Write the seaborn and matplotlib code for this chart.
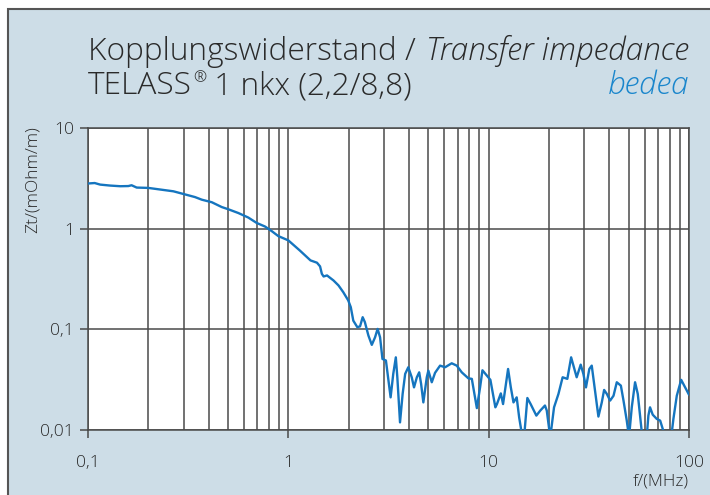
import matplotlib
matplotlib.use("Agg")
import matplotlib.pyplot as plt
import seaborn as sns
import pandas as pd
from matplotlib.patches import Rectangle
from matplotlib.ticker import FixedLocator, NullLocator, NullFormatter

# ---- data (f in MHz, Zt in mOhm/m) ----
freq_mhz = [
    0.100, 0.108, 0.115, 0.129, 0.145, 0.159, 0.165, 0.175, 0.200, 0.233,
    0.267, 0.305, 0.342, 0.370, 0.415, 0.465, 0.501, 0.563, 0.631, 0.695,
    0.765, 0.826, 0.891, 1.00, 1.14, 1.29, 1.39, 1.44, 1.47, 1.50,
    1.56, 1.68, 1.78, 1.88, 1.99, 2.05, 2.11, 2.21, 2.28, 2.35,
    2.41, 2.51, 2.61, 2.71, 2.79, 2.87, 2.95, 3.07, 3.16, 3.24,
    3.34, 3.44, 3.50, 3.61, 3.72, 3.83, 3.97, 4.13, 4.24, 4.38,
    4.50, 4.60, 4.72, 4.91, 5.00, 5.20, 5.40, 5.72, 6.06, 6.54,
    6.93, 7.34, 7.92, 8.24, 8.73, 9.06, 9.31, 9.79, 10.2, 10.5,
    10.8, 11.0, 11.5, 11.8, 12.5, 12.9, 13.3, 13.8, 14.2, 14.6,
    15.1, 15.6, 16.2, 17.3, 18.1, 19.1, 19.5, 20.1, 20.5, 21.2,
    22.3, 23.4, 24.7, 25.8, 26.5, 27.5, 28.8, 29.7, 30.6, 31.8,
    32.7, 33.6, 35.3, 36.7, 37.7, 38.9, 40.4, 42.0, 43.6, 45.7,
    47.1, 48.9, 50.2, 51.8, 53.8, 55.5, 57.0, 58.3, 61.5, 62.7,
    63.9, 65.9, 69.0, 71.8, 74.0, 76.9, 81.1, 83.6, 86.9, 91.4,
    94.6, 97.5, 100.0,
]
zt_mohm_m = [
    2.81, 2.84, 2.74, 2.68, 2.64, 2.65, 2.70, 2.56, 2.54, 2.44,
    2.35, 2.19, 2.06, 1.94, 1.83, 1.64, 1.56, 1.43, 1.29, 1.14,
    1.05, 0.946, 0.844, 0.765, 0.608, 0.484, 0.459, 0.422, 0.356, 0.335,
    0.343, 0.306, 0.273, 0.234, 0.194, 0.166, 0.122, 0.105, 0.107, 0.132,
    0.118, 0.0868, 0.0701, 0.0834, 0.101, 0.0834, 0.0508, 0.0490, 0.0310, 0.0211,
    0.0361, 0.0527, 0.0334, 0.0119, 0.0228, 0.0361, 0.0420, 0.0334, 0.0265, 0.0334,
    0.0374, 0.0287, 0.0188, 0.0334, 0.0389, 0.0298, 0.0370, 0.0436, 0.0420, 0.0460,
    0.0436, 0.0374, 0.0326, 0.0322, 0.0165, 0.0265, 0.0392, 0.0347, 0.0315, 0.0228,
    0.0168, 0.0181, 0.0231, 0.0181, 0.0404, 0.0265, 0.0188, 0.0211, 0.0133, 0.0095,
    0.0095, 0.0208, 0.0181, 0.0139, 0.0156, 0.0175, 0.0156, 0.0098, 0.0099, 0.0168,
    0.0228, 0.0334, 0.0322, 0.0527, 0.0436, 0.0334, 0.0446, 0.0361, 0.0265, 0.0404,
    0.0436, 0.0287, 0.0136, 0.0188, 0.0250, 0.0228, 0.0196, 0.0219, 0.0298, 0.0276,
    0.0196, 0.0124, 0.0085, 0.0168, 0.0298, 0.0228, 0.0139, 0.0090, 0.0085, 0.0139,
    0.0168, 0.0142, 0.0129, 0.0124, 0.0102, 0.0078, 0.0078, 0.0129, 0.0219, 0.0315,
    0.0276, 0.0246, 0.0224,
]

x_ticks = [0.1, 1, 10, 100]
x_tick_labels = ["0,1", "1", "10", "100"]
y_ticks = [0.01, 0.1, 1, 10]
y_tick_labels = ["0,01", "0,1", "1", "10"]

title_plain = "Kopplungswiderstand / "
title_italic = "Transfer impedance"
subtitle_a = "TELASS"
subtitle_reg = "\u00ae"
subtitle_b = " 1 nkx (2,2/8,8)"
brand = "bedea"
y_label = "Zt/(mOhm/m)"
x_label = "f/(MHz)"

# ---- styling ----
sns.set_theme(style="white")
FONT = ["Open Sans", "Liberation Sans", "DejaVu Sans"]
plt.rcParams["font.family"] = FONT

BG = "#cddde7"
LINE = "#1575bf"
GRID = "#4a4a4a"
TXT = "#2a2a2a"

W, H = 710, 495
fig = plt.figure(figsize=(W / 100, H / 100), dpi=100)
fig.patch.set_facecolor("white")

# background panel with dark frame
frame = Rectangle((8 / W, -0.05), 1.2, 1 - 9 / H + 0.05,
                  transform=fig.transFigure, facecolor=BG,
                  edgecolor="#555555", linewidth=1.5, zorder=-10)
fig.add_artist(frame)

ax = fig.add_axes([88 / W, 1 - 430 / H, (689 - 88) / W, (430 - 128) / H])
ax.set_facecolor("white")
ax.set_zorder(2)

df = pd.DataFrame({"f": freq_mhz, "zt": zt_mohm_m})
sns.lineplot(data=df, x="f", y="zt", ax=ax, color=LINE, linewidth=1.7,
             sort=False, estimator=None, zorder=3)

ax.set_xscale("log")
ax.set_yscale("log")
ax.set_xlim(0.1, 100)
ax.set_ylim(0.01, 10)

ax.xaxis.set_major_locator(FixedLocator(x_ticks))
ax.set_xticklabels(x_tick_labels)
ax.yaxis.set_major_locator(FixedLocator(y_ticks))
ax.set_yticklabels(y_tick_labels)
ax.xaxis.set_minor_formatter(NullFormatter())
ax.yaxis.set_minor_locator(NullLocator())

ax.grid(True, which="major", axis="both", color=GRID, linewidth=1.1)
ax.grid(True, which="minor", axis="x", color=GRID, linewidth=1.1)
ax.set_axisbelow(True)

ax.tick_params(axis="both", which="major", direction="out", length=6,
               width=1.1, color=GRID, labelsize=12.5, labelcolor=TXT)
ax.tick_params(axis="x", which="major", pad=12)
ax.tick_params(axis="y", which="major", pad=4)
ax.tick_params(axis="x", which="minor", length=0)
ax.tick_params(left=True, bottom=True)
for lab in ax.get_xticklabels() + ax.get_yticklabels():
    lab.set_fontweight("light")

for s in ax.spines.values():
    s.set_color(GRID)
    s.set_linewidth(1.1)

ax.set_xlabel("")
ax.set_ylabel("")

# ---- titles (fit to reference width) ----
renderer = fig.canvas.get_renderer()
TS = 20
L, R = 88, 689
y1 = 1 - 60 / H
y2 = 1 - 94 / H

tp = fig.text(L / W, y1, title_plain, fontsize=TS, color=TXT, ha="left",
              va="baseline", fontweight="light")
ti = fig.text(R / W, y1, title_italic, fontsize=TS, color=TXT, ha="right",
              va="baseline", style="italic", fontweight="light")
wp = tp.get_window_extent(renderer).width
wi = ti.get_window_extent(renderer).width
TS2 = TS * (R - L - 2) / (wp + wi)
tp.set_fontsize(TS2)
ti.set_fontsize(TS2)

sa = fig.text(L / W, y2, subtitle_a, fontsize=TS2, color=TXT, ha="left",
              va="baseline", fontweight="light")
xa = L + sa.get_window_extent(renderer).width + 1
sr = fig.text(xa / W, 1 - 82 / H, subtitle_reg, fontsize=TS2 * 0.5,
              color=TXT, ha="left", va="baseline", fontweight="light")
xb = xa + sr.get_window_extent(renderer).width
fig.text(xb / W, y2, subtitle_b, fontsize=TS2, color=TXT, ha="left",
         va="baseline", fontweight="light")
fig.text(R / W, y2, brand, fontsize=TS2, color="#1a86cc", ha="right",
         va="baseline", style="italic", fontweight="light")

fig.text(33 / W, 1 - 180 / H, y_label, fontsize=12.5, color=TXT,
         rotation=90, ha="center", va="center", fontweight="light")
fig.text(689 / W, 1 - 482 / H, x_label, fontsize=12.5, color=TXT,
         ha="right", va="center", fontweight="light")

fig.savefig("out.png", dpi=100, facecolor=fig.get_facecolor())
